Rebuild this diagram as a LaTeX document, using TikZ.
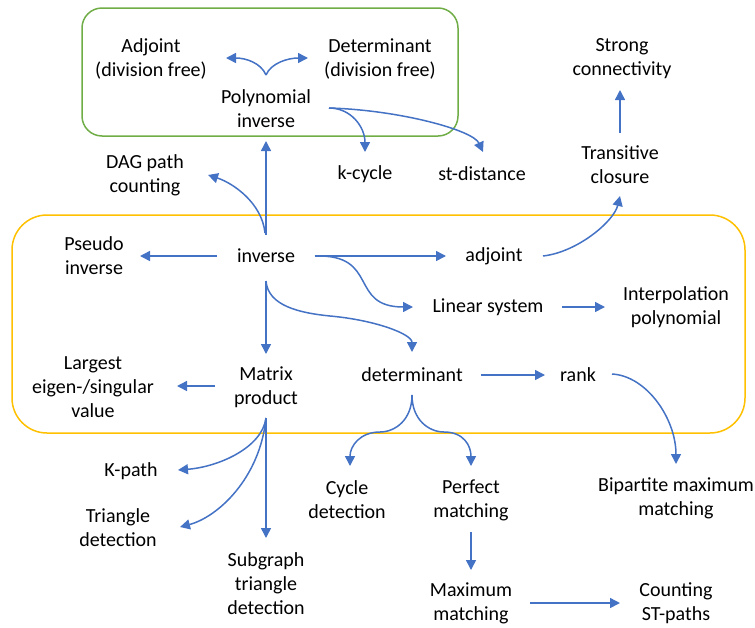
\documentclass[tikz,border=0pt]{standalone}
\usepackage{fontspec}
\setmainfont{Carlito}
\usetikzlibrary{arrows.meta,calc}
\definecolor{arrblue}{HTML}{4472C4}
\definecolor{boxgreen}{HTML}{70AD47}
\definecolor{boxyellow}{HTML}{FFC000}
\begin{document}
\begin{tikzpicture}[x=1pt,y=-1pt,
  lbl/.style={align=center,inner sep=0pt,font=\fontsize{20}{24}\selectfont},
  arr/.style={draw=arrblue,line width=1.5pt,-{Triangle[length=10pt,width=10pt]}},
  frame/.style={line width=1.5pt}]
\useasboundingbox (0,0) rectangle (755,627);
% frames
\draw[frame,boxgreen,rounded corners=20pt] (82,8) rectangle (458,136);
\draw[frame,boxyellow,rounded corners=35pt] (12,215) rectangle (745,433);
% nodes
\node[lbl] (adjdf) at (151,59) {Adjoint\\(division free)};
\node[lbl] (detdf) at (380,59) {Determinant\\(division free)};
\node[lbl] (poly) at (266,109) {Polynomial\\inverse};
\node[lbl] (kcyc) at (365,174) {k-cycle};
\node[lbl] (std) at (482,174) {st-distance};
\node[lbl] (dag) at (145,175) {DAG path\\counting};
\node[lbl] (strong) at (622,59) {Strong\\connectivity};
\node[lbl] (trans) at (620,165) {Transitive\\closure};
\node[lbl] (inv) at (266,256) {inverse};
\node[lbl] (pseudo) at (94,256) {Pseudo\\inverse};
\node[lbl] (adj) at (494,256) {adjoint};
\node[lbl] (lin) at (488,307) {Linear system};
\node[lbl] (interp) at (676,307) {Interpolation\\polynomial};
\node[lbl] (matp) at (266,387) {Matrix\\product};
\node[lbl] (largest) at (93,387) {Largest\\eigen-/singular\\value};
\node[lbl] (det) at (412,375) {determinant};
\node[lbl] (rank) at (578,375) {rank};
\node[lbl] (bip) at (676,498) {Bipartite maximum\\matching};
\node[lbl] (cyc) at (347,500) {Cycle\\detection};
\node[lbl] (perf) at (471,500) {Perfect\\matching};
\node[lbl] (maxm) at (471,603) {Maximum\\matching};
\node[lbl] (count) at (676,603) {Counting\\ST-paths};
\node[lbl] (kpath) at (131,471) {K-path};
\node[lbl] (tri) at (118,528) {Triangle\\detection};
\node[lbl] (sub) at (266,584) {Subgraph\\triangle\\detection};
% connectors in green box
\draw[arr] ($(poly)+(0,-34)$) .. controls +(-5,-12) and +(20,0) .. ($(adjdf)+(75,-1)$);
\draw[arr] ($(poly)+(0,-34)$) .. controls +(5,-12) and +(-20,0) .. ($(detdf)+(-72,-1)$);
\draw[arr] ($(poly)+(63,-1)$) .. controls +(22,0) and +(0,-25) .. ($(kcyc)+(0,-22)$);
\draw[arr] ($(poly)+(63,-1)$) .. controls +(70,2) and +(-10,-22) .. ($(std)+(1,-22)$);
% inverse
\draw[arr] ($(inv)+(0,-21)$) -- ($(poly)+(0,32)$);
\draw[arr] ($(inv)+(-1,-23)$) .. controls +(-3,-30) and +(25,8) .. ($(dag)+(63,0)$);
\draw[arr] ($(inv)+(-49,0)$) -- ($(pseudo)+(46,0)$);
\draw[arr] ($(inv)+(49,0)$) -- ($(adj)+(-48,0)$);
\draw[arr] ($(inv)+(49,0)$) .. controls +(65,-2) and +(-65,0) .. ($(lin)+(-75,0)$);
\draw[arr] ($(inv)+(0,25)$) .. controls +(2,25) and +(-30,-3) .. ($(inv)+(64,60)$)
  .. controls +(45,4) and +(0,-18) .. ($(det)+(0,-23)$);
\draw[arr] ($(inv)+(0,25)$) -- ($(matp)+(0,-33)$);
% adjoint, transitive
\draw[arr] ($(adj)+(49,0)$) .. controls +(35,-4) and +(-6,25) .. ($(trans)+(0,31)$);
\draw[arr] ($(trans)+(0,-32)$) -- ($(strong)+(-2,31)$);
\draw[arr] ($(lin)+(74,0)$) -- ($(interp)+(-71,0)$);
% matrix product
\draw[arr] ($(matp)+(-51,-1)$) -- ($(largest)+(84,-1)$);
\draw[arr] ($(matp)+(0,31)$) .. controls +(-4,30) and +(40,-3) .. ($(kpath)+(47,-1)$);
\draw[arr] ($(matp)+(0,31)$) .. controls +(-6,60) and +(38,-10) .. ($(tri)+(62,-1)$);
\draw[arr] ($(matp)+(0,31)$) -- ($(sub)+(0,-46)$);
% determinant
\draw[arr] ($(det)+(69,0)$) -- ($(rank)+(-33,0)$);
\draw[arr] ($(rank)+(34,-1)$) .. controls +(35,2) and +(0,-45) .. ($(bip)+(0,-34)$);
\draw[arr] ($(det)+(0,20)$) .. controls +(0,25) and +(15,0) .. ($(det)+(-32,57)$)
  .. controls +(-20,0) and +(0,-20) .. ($(cyc)+(3,-34)$);
\draw[arr] ($(det)+(0,20)$) .. controls +(0,25) and +(-15,0) .. ($(det)+(32,57)$)
  .. controls +(20,0) and +(0,-20) .. ($(perf)+(0,-34)$);
\draw[arr] ($(perf)+(0,32)$) -- ($(maxm)+(0,-33)$);
\draw[arr] ($(maxm)+(59,0)$) -- ($(count)+(-56,0)$);
\end{tikzpicture}
\end{document}
